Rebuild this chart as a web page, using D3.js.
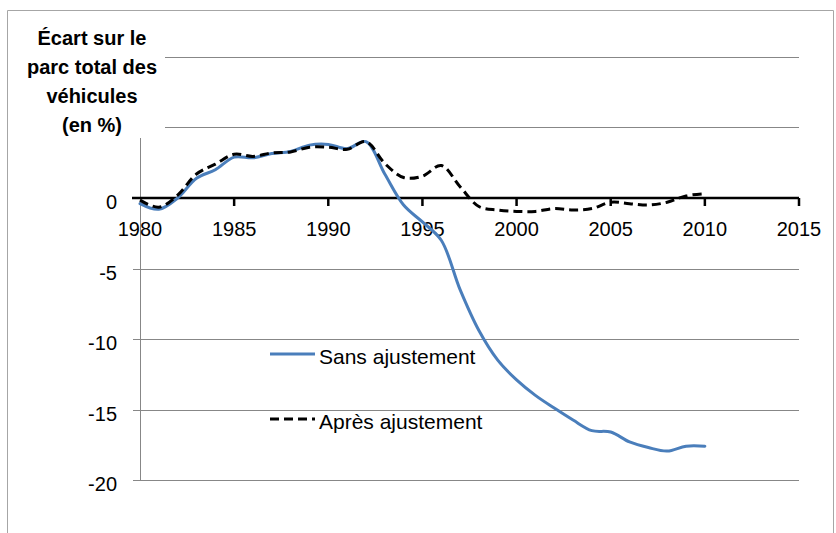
<!DOCTYPE html>
<html>
<head>
<meta charset="utf-8">
<script src="https://cdn.jsdelivr.net/npm/d3@7"></script>
<style>
  body { margin: 0; background: #fff; }
  text { font-family: "Liberation Sans", Arial, sans-serif; fill: #000; }
</style>
</head>
<body>
<svg id="chart" width="836" height="533"></svg>
<script>
"use strict"

// données
const years = d3.range(1980, 2011)
const sansAjustement = [-0.4, -0.8, 0.0, 1.4, 2.0, 2.9, 2.85, 3.15, 3.3, 3.75, 3.8, 3.5, 4.0,
    1.7, -0.5, -1.7, -3.0, -6.5, -9.4, -11.5, -12.9, -14.0, -14.9, -15.75, -16.5, -16.6,
    -17.3, -17.7, -17.95, -17.6, -17.6]
const apresAjustement = [-0.15, -0.65, 0.2, 1.7, 2.4, 3.1, 2.95, 3.2, 3.27, 3.6, 3.6, 3.45, 4.0,
    2.45, 1.45, 1.55, 2.3, 0.8, -0.6, -0.85, -0.95, -0.95, -0.75, -0.85, -0.75, -0.3,
    -0.4, -0.5, -0.3, 0.15, 0.3]
const xTicks = [1980, 1985, 1990, 1995, 2000, 2005, 2010, 2015]
const yTicks = [-20, -15, -10, -5, 0, 5, 10]
const yLabels = [-20, -15, -10, -5, 0]   // 5 et 10 sont masqués par le titre
const titleLines = ["Écart sur le", "parc total des", "véhicules", "(en %)"]
const legendLabels = ["Sans ajustement", "Après ajustement"]

const svg = d3.select('#chart')

// cadre extérieur
svg.append('path')
    .attr('d', 'M7.5,540 V10.5 H833.5 V540')
    .attr('fill', 'none')
    .attr('stroke', '#a6a6a6')
    .attr('stroke-width', 1)

const x = d3.scaleLinear().domain([1980, 2015]).range([140, 799])
const y = d3.scaleLinear().domain([-20, 10]).range([480, 57])

// grille
svg.append('g').selectAll('line')
    .data(yTicks.filter(d => d !== 0))
    .join('line')
    .attr('x1', 133).attr('x2', 799)
    .attr('y1', d => Math.round(y(d)) + .5).attr('y2', d => Math.round(y(d)) + .5)
    .attr('stroke', '#878787')
    .attr('stroke-width', 1)

// axe vertical
svg.append('line')
    .attr('x1', 140.5).attr('x2', 140.5)
    .attr('y1', y(10)).attr('y2', y(-20))
    .attr('stroke', '#878787')

svg.append('g').selectAll('text')
    .data(yLabels)
    .join('text')
    .attr('x', 117)
    .attr('y', d => y(d) + 11)
    .attr('text-anchor', 'end')
    .attr('font-size', 20)
    .text(d => d)

// axe horizontal en 0
const x0 = y(0)
svg.append('line')
    .attr('x1', x(1980) - 8).attr('x2', x(2015))
    .attr('y1', x0).attr('y2', x0)
    .attr('stroke', '#000')
    .attr('stroke-width', 2.5)

svg.append('g').selectAll('line')
    .data(xTicks.slice(1))
    .join('line')
    .attr('x1', d => x(d)).attr('x2', d => x(d))
    .attr('y1', x0).attr('y2', x0 + 8)
    .attr('stroke', '#000')
    .attr('stroke-width', 2.5)

svg.append('g').selectAll('text')
    .data(xTicks)
    .join('text')
    .attr('x', d => x(d))
    .attr('y', x0 + 38)
    .attr('text-anchor', 'middle')
    .attr('font-size', 20)
    .text(d => d)

// courbes
const line = d3.line()
    .x((d, i) => x(years[i]))
    .y(d => y(d))
    .curve(d3.curveCatmullRom.alpha(0.5))

svg.append('path')
    .datum(sansAjustement)
    .attr('d', line)
    .attr('fill', 'none')
    .attr('stroke', '#4a7ebb')
    .attr('stroke-width', 3)
    .attr('stroke-linecap', 'round')

svg.append('path')
    .datum(apresAjustement)
    .attr('d', line)
    .attr('fill', 'none')
    .attr('stroke', '#000')
    .attr('stroke-width', 3)
    .attr('stroke-dasharray', '9,5')

// titre sur fond blanc
svg.append('rect')
    .attr('x', 20).attr('y', 20)
    .attr('width', 145).attr('height', 118)
    .attr('fill', '#fff')

svg.append('g').selectAll('text')
    .data(titleLines)
    .join('text')
    .attr('x', 92)
    .attr('y', (d, i) => 45 + i * 29)
    .attr('text-anchor', 'middle')
    .attr('font-size', 20)
    .attr('font-weight', 'bold')
    .text(d => d)

// légende
const legend = svg.append('g')
legendLabels.forEach((label, i) => {
    const ly = 354 + i * 65
    legend.append('line')
        .attr('x1', 270).attr('x2', 315)
        .attr('y1', ly).attr('y2', ly)
        .attr('stroke', i === 0 ? '#4a7ebb' : '#000')
        .attr('stroke-width', 3)
        .attr('stroke-dasharray', i === 0 ? null : '9,5')
    legend.append('text')
        .attr('x', 319)
        .attr('y', ly + 10)
        .attr('font-size', 21)
        .text(label)
})
</script>
</body>
</html>
